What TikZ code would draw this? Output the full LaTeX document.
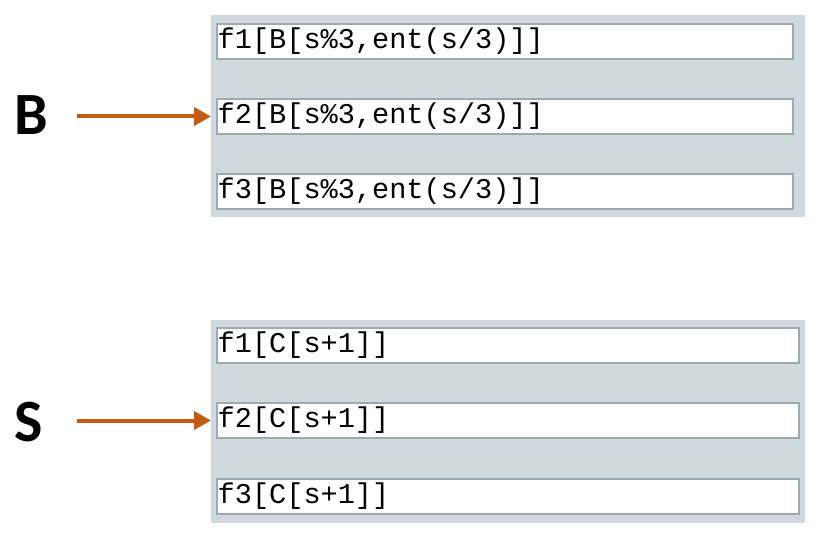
\documentclass[tikz,border=0pt]{standalone}
\usepackage{fontspec}
\setmainfont{Carlito}
\setmonofont{Liberation Mono}
\usetikzlibrary{arrows.meta,positioning}
\definecolor{panelgrey}{HTML}{D0D9DE}
\definecolor{boxline}{HTML}{9AABB1}
\definecolor{arrorange}{HTML}{C55A11}
\tikzset{
    panel/.style={fill=panelgrey, draw=none},
    slot/.style={draw=boxline, line width=2pt, fill=white, anchor=north west,
        minimum height=35pt, inner sep=0pt, outer sep=0pt},
    slottext/.style={anchor=west, inner sep=0.5pt,
        font=\ttfamily\fontsize{28.6}{30}\selectfont},
    biglabel/.style={inner sep=0pt, font=\bfseries\fontsize{60}{64}\selectfont},
    pointer/.style={draw=arrorange, line width=4pt, shorten >=6pt,
        -{Triangle[length=17pt,width=18pt]}}
}
\begin{document}
\begin{tikzpicture}[x=1pt,y=-1pt]
    \useasboundingbox (0,0) rectangle (820,540);
    % upper array
    \fill[panel] (211,15) rectangle (805,217);
    \node[slot, minimum width=576pt] (b1) at (217,24) {};
    \node[slot, minimum width=576pt] (b2) at (217,99) {};
    \node[slot, minimum width=576pt] (b3) at (217,174) {};
    \node[slottext] at (b1.west) {f1[B[s\%3,ent(s/3)]]};
    \node[slottext] at (b2.west) {f2[B[s\%3,ent(s/3)]]};
    \node[slottext] at (b3.west) {f3[B[s\%3,ent(s/3)]]};
    \node[biglabel] (labB) at (31,115.5) {B};
    \coordinate (startB) at (77,116);
    \draw[pointer] (b2.west -| startB) -- (b2.west);
    % lower array
    \fill[panel] (211,320) rectangle (805,523);
    \node[slot, minimum width=582pt] (c1) at (217,328) {};
    \node[slot, minimum width=582pt] (c2) at (217,403) {};
    \node[slot, minimum width=582pt] (c3) at (217,479) {};
    \node[slottext] at (c1.west) {f1[C[s+1]]};
    \node[slottext] at (c2.west) {f2[C[s+1]]};
    \node[slottext] at (c3.west) {f3[C[s+1]]};
    \node[biglabel] (labS) at (28.5,422) {S};
    \coordinate (startS) at (77,421);
    \draw[pointer] (c2.west -| startS) -- (c2.west);
\end{tikzpicture}
\end{document}
